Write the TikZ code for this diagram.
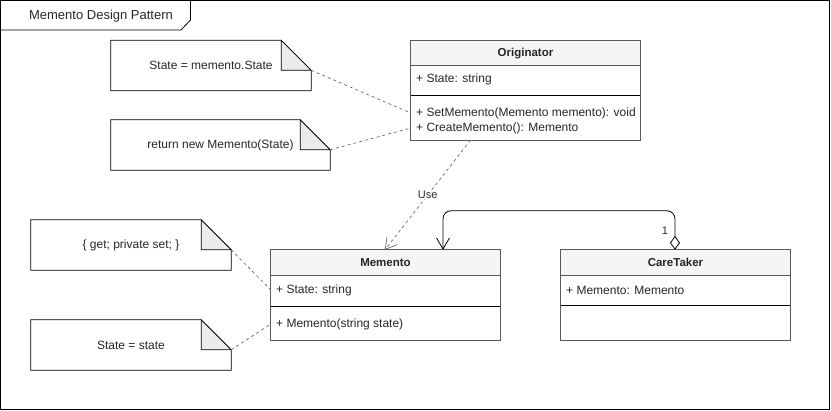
\documentclass[tikz,border=0pt]{standalone}
\usepackage{fontspec}
\setmainfont{Liberation Sans}
\usetikzlibrary{arrows.meta,calc}
\tikzset{
  txt/.style={font=\fontsize{12}{14}\selectfont, text=black!85, inner sep=0pt},
  notebox/.style={minimum width=#1, minimum height=50pt, inner sep=0pt, font=\fontsize{12}{14}\selectfont, text=black!85},
  classbox/.style={minimum width=229pt, minimum height=90pt, inner sep=0pt},
  conn/.style={draw=black!65, dash pattern=on 3pt off 3pt, line width=0.6pt},
  border/.style={draw=black!65, line width=0.8pt},
}
\newcommand{\drawnote}[1]{%
  \draw[line width=0.8pt] (#1.north west) -- ([xshift=-30pt]#1.north east) -- ([yshift=-30pt]#1.north east) -- (#1.south east) -- (#1.south west) -- cycle;
  \filldraw[fill=black!8, line width=0.8pt] ([xshift=-30pt]#1.north east) -- ([xshift=-30pt,yshift=-30pt]#1.north east) -- ([yshift=-30pt]#1.north east) -- cycle;
  \coordinate (#1-f) at ([yshift=-30pt]#1.north east);
}
\newcommand{\drawclass}[4]{% name, header bottom offset, separator offset, title
  \fill[black!4] (#1.north west) rectangle ([yshift=-#2pt]#1.north east);
  \draw[border] (#1.north west) rectangle (#1.south east);
  \draw[border] ([yshift=-#2pt]#1.north west) -- ([yshift=-#2pt]#1.north east);
  \draw[line width=0.8pt] ([yshift=-#3pt]#1.north west) -- ([yshift=-#3pt]#1.north east);
  \node[txt, font=\fontsize{11.5}{13}\selectfont\bfseries] (#1-t) at ([yshift=-#2pt/2]#1.north) {#4};
}
\begin{document}
\begin{tikzpicture}[x=1pt,y=-1pt]
\useasboundingbox (0,0) rectangle (831,411);
% frame
\draw[line width=0.8pt] (0.5,0.5) rectangle (829.5,409.5);
\draw[line width=0.8pt] (0.5,0.5) -- (190.5,0.5) -- (190.5,20) -- (181,30) -- (0.5,30);
\node[txt, font=\fontsize{13}{15}\selectfont] (title) at (101,16) {Memento Design Pattern};

% classes
\node[classbox, minimum height=99pt] (orig) at (525.5,90.5) {};
\drawclass{orig}{25}{55}{Originator}
\node[txt, anchor=west] (oa1) at (416,79) {+ State: string};
\node[txt, anchor=west] (om1) at (416,113) {+ SetMemento(Memento memento): void};
\node[txt, anchor=west] (om2) at (416,128) {+ CreateMemento(): Memento};

\node[classbox] (mem) at (385.5,295) {};
\drawclass{mem}{26}{57}{Memento}
\node[txt, anchor=west] (ma1) at (276,290) {+ State: string};
\node[txt, anchor=west] (mm1) at (276,324) {+ Memento(string state)};

\node[classbox] (ct) at (675.5,295) {};
\drawclass{ct}{26}{56}{CareTaker}
\node[txt, anchor=west] (ca1) at (566,290) {+ Memento: Memento};

% notes
\node[notebox=200pt] (n1) at (211,65.5) {State = memento.State};
\drawnote{n1}
\node[notebox=219pt] (n2) at (220.5,145) {return new Memento(State)};
\drawnote{n2}
\node[notebox=200pt] (n3) at (131,245) {\{ get; private set; \}};
\drawnote{n3}
\node[notebox=200pt] (n4) at (131,345) {State = state};
\drawnote{n4}

% note connectors
\draw[conn] (n1-f) -- (orig.west |- om1);
\draw[conn] (n2-f) -- (orig.west |- om2);
\draw[conn] (n3-f) -- (mem.west |- ma1);
\draw[conn] (n4-f) -- (mem.west |- mm1);

% use dependency
\draw[conn, -{Straight Barb[length=11pt,width=13pt]}] ([xshift=-55pt]orig.south) -- ([xshift=-0.5pt]mem.north)
  node[midway, fill=white, inner sep=1pt, txt, font=\fontsize{11}{13}\selectfont] (use) {Use};

% aggregation
\coordinate (agA) at ([xshift=-0.5pt]ct.north);
\coordinate (agB) at ([xshift=57.5pt]mem.north);
\draw[line width=0.8pt, rounded corners=8pt, {Diamond[open,length=14pt,width=10pt]}-{Straight Barb[length=11pt,width=13pt]}]
  (agA) -- ($(agA)+(0,-39)$) -- ($(agB)+(0,-39)$) -- (agB);
\node[txt, font=\fontsize{11}{13}\selectfont] (one) at (665,231) {1};
\end{tikzpicture}
\end{document}
